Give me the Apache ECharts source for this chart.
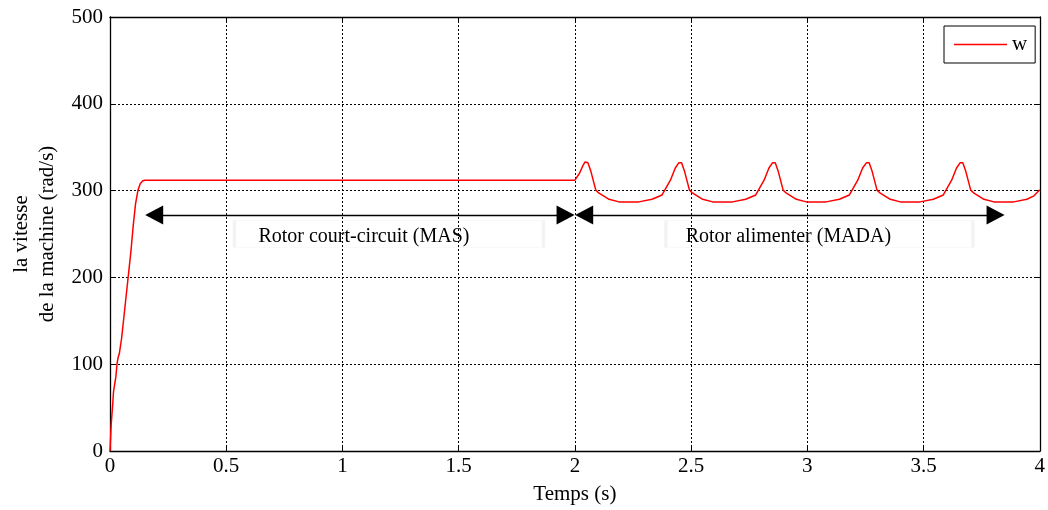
<!DOCTYPE html>
<html>
<head>
<meta charset="utf-8">
<script src="https://cdn.jsdelivr.net/npm/echarts@6/dist/echarts.min.js"></script>
<style>
html,body{margin:0;padding:0;background:#fff;}
#chart{width:1048px;height:510px;}
</style>
</head>
<body>
<div id="chart"></div>
<script>
// ---- data ----
const xTicks = [0, 0.5, 1, 1.5, 2, 2.5, 3, 3.5, 4];
const yTicks = [0, 100, 200, 300, 400, 500];
const seriesName = 'w';
const timeS = [
  0, 0.005, 0.012, 0.015, 0.018, 0.02, 0.025, 0.03, 0.035, 0.04, 0.05, 0.06, 0.07, 0.08, 0.09, 0.1, 0.11, 0.12, 0.13, 0.14, 0.15,
  2.0, 2.02, 2.035, 2.044, 2.05, 2.056, 2.068, 2.09, 2.104, 2.147, 2.19, 2.275, 2.332, 2.375, 2.411, 2.432, 2.447,
  2.453, 2.459, 2.471, 2.493, 2.507, 2.55, 2.593, 2.678, 2.735, 2.778, 2.814, 2.835, 2.85,
  2.856, 2.862, 2.874, 2.896, 2.91, 2.953, 2.996, 3.081, 3.138, 3.181, 3.217, 3.238, 3.254,
  3.26, 3.266, 3.278, 3.3, 3.314, 3.357, 3.4, 3.485, 3.542, 3.585, 3.621, 3.642, 3.657,
  3.663, 3.669, 3.681, 3.703, 3.717, 3.76, 3.803, 3.888, 3.945, 3.975, 4.0
];
const speedW = [
  0, 30, 55, 68, 66, 70, 85, 100, 108, 112, 130, 155, 180, 205, 230, 260, 285, 300, 308, 311, 312,
  312, 320, 329, 333, 334, 332, 323, 300.5, 297, 290, 287, 287, 290, 295, 312, 326, 332,
  334, 332, 323, 300.5, 297, 290, 287, 287, 290, 295, 312, 326, 332,
  334, 332, 323, 300.5, 297, 290, 287, 287, 290, 295, 312, 326, 332,
  334, 332, 323, 300.5, 297, 290, 287, 287, 290, 295, 312, 326, 332,
  334, 332, 323, 300.5, 297, 290, 287, 287, 290, 294, 301
];
// annotations (data coordinates)
const arrow1 = [[0.19, 272], [1.96, 272]];
const arrow2 = [[2.04, 272], [3.81, 272]];
const label1 = {text: 'Rotor court-circuit (MAS)', at: [1.2, 250]};
const label2 = {text: 'Rotor alimenter (MADA)', at: [3.052, 250]};

const FONT = '"Liberation Serif", "Times New Roman", serif';
const chart = echarts.init(document.getElementById('chart'), null, {renderer: 'canvas'});

const tickStyle = {show: true, inside: true, length: 5, lineStyle: {color: '#000', width: 1}};
const axisLineStyle = {show: true, onZero: false, lineStyle: {color: '#000', width: 1.3}};
const gridLine = {show: true, lineStyle: {color: '#000', width: 1, type: [2, 2]}};

const option = {
  animation: false,
  backgroundColor: '#fff',
  grid: {left: 108, right: 5, top: 17, bottom: 58, containLabel: false},
  legend: {
    show: true,
    data: [seriesName],
    left: 944, top: 26,
    padding: [8, 8, 8, 10],
    borderColor: '#000', borderWidth: 1,
    backgroundColor: '#fff',
    icon: 'rect',
    itemWidth: 53, itemHeight: 1.5, itemGap: 5,
    textStyle: {fontFamily: FONT, fontSize: 21, color: '#000'}
  },
  xAxis: [
    {
      type: 'value', min: 0, max: 4, interval: 0.5, position: 'bottom',
      name: 'Temps (s)', nameLocation: 'middle', nameGap: 33,
      nameTextStyle: {fontFamily: FONT, fontSize: 21, color: '#000'},
      axisLine: axisLineStyle, axisTick: tickStyle,
      axisLabel: {fontFamily: FONT, fontSize: 21, color: '#000', margin: 5,
        formatter: v => xTicks.includes(v) ? String(v) : ''},
      splitLine: gridLine
    },
    {
      type: 'value', min: 0, max: 4, interval: 0.5, position: 'top',
      axisLine: axisLineStyle, axisTick: tickStyle,
      axisLabel: {show: false}, splitLine: {show: false}
    }
  ],
  yAxis: [
    {
      type: 'value', min: 0, max: 500, interval: 100, position: 'left',
      name: 'la vitesse\nde la machine (rad/s)', nameLocation: 'middle', nameGap: 50,
      nameTextStyle: {fontFamily: FONT, fontSize: 21, color: '#000', lineHeight: 26},
      axisLine: axisLineStyle, axisTick: tickStyle,
      axisLabel: {fontFamily: FONT, fontSize: 21, color: '#000', margin: 7,
        formatter: v => yTicks.includes(v) ? String(v) : ''},
      splitLine: gridLine
    },
    {
      type: 'value', min: 0, max: 500, interval: 100, position: 'right',
      axisLine: axisLineStyle, axisTick: tickStyle,
      axisLabel: {show: false}, splitLine: {show: false}
    }
  ],
  series: [
    {
      name: seriesName,
      type: 'line',
      xAxisIndex: 0, yAxisIndex: 0,
      data: timeS.map((t, i) => [t, speedW[i]]),
      symbol: 'none',
      smooth: false,
      lineStyle: {color: '#ff0000', width: 1.5},
      itemStyle: {color: '#ff0000'},
      z: 3,
      markLine: {
        silent: true,
        symbol: ['triangle', 'triangle'],
        symbolSize: [19, 18],
        lineStyle: {color: '#000', width: 1.4, type: 'solid'},
        itemStyle: {color: '#000'},
        label: {show: false},
        animation: false,
        data: [
          [{coord: arrow1[0]}, {coord: arrow1[1]}],
          [{coord: arrow2[0]}, {coord: arrow2[1]}]
        ]
      },
      markPoint: {
        silent: true,
        symbol: 'rect',
        itemStyle: {color: 'rgba(0,0,0,0)', borderColor: '#f3f3f3', borderWidth: 1},
        label: {show: true, position: 'inside', fontFamily: FONT, fontSize: 20, color: '#000'},
        data: [
          {coord: label1.at, symbolSize: [309, 27], value: label1.text,
            label: {formatter: label1.text, offset: [-25, 3]}},
          {coord: label2.at, symbolSize: [307, 27], value: label2.text,
            label: {formatter: label2.text, offset: [-31, 3]}}
        ]
      }
    }
  ]
};
chart.setOption(option);
</script>
</body>
</html>
